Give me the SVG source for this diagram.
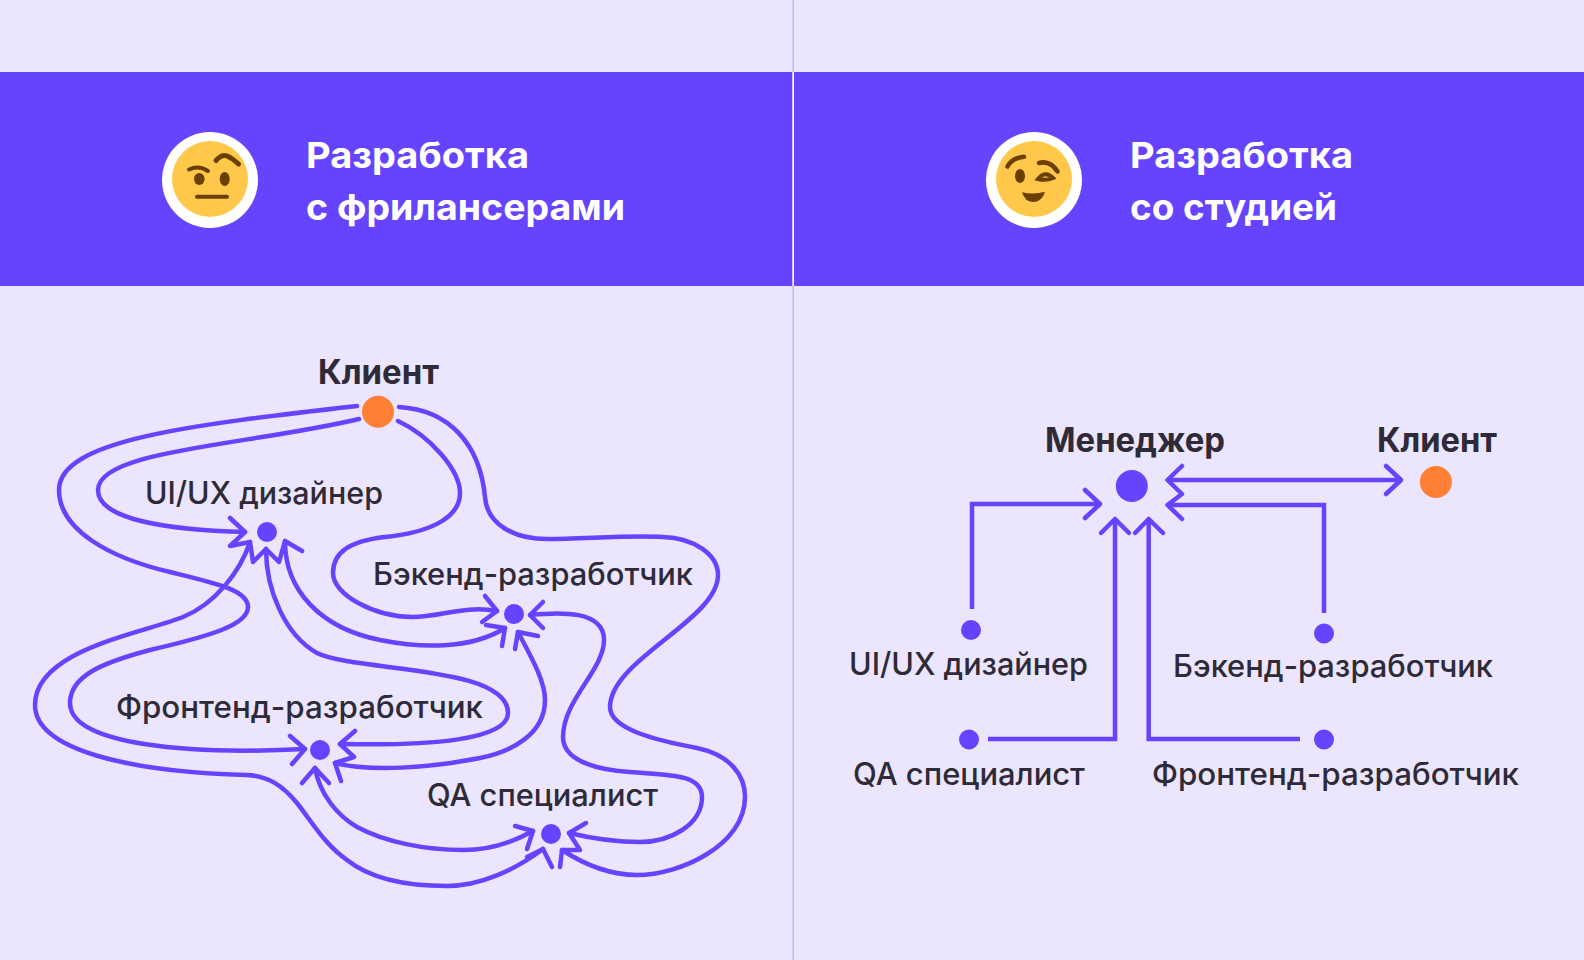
<svg xmlns="http://www.w3.org/2000/svg" width="1584" height="960" viewBox="0 0 1584 960">
<style>
text{font-family:"Inter","Liberation Sans",sans-serif;fill:#2E2A38;font-size:31px;font-weight:500}
.b{font-size:34px;font-weight:700}
.h{font-size:36px;font-weight:700;fill:#fff}
.c{fill:none;stroke:#6543FF;stroke-width:4.500;stroke-linecap:round;stroke-linejoin:round}
.s{fill:none;stroke:#6543FF;stroke-width:4.500;stroke-linejoin:miter}
.d{fill:#6543FF}
.o{fill:#FF8035}
.f{fill:none;stroke:#6B3F00;stroke-linecap:round}
.y{fill:#FFC84A}
</style>
<rect width="1584" height="960" fill="#EBE5FD"/>
<rect y="72" width="1584" height="214" fill="#6543FF"/>
<rect x="792.5" width="1.5" height="960" fill="#C4B8FA"/>
<rect x="792.5" y="72" width="1.5" height="214" fill="#fff"/>

<g id="header-left">
<circle cx="210" cy="180" r="48" fill="#fff"/>
<circle class="y" cx="210" cy="179" r="38"/>
<ellipse cx="199.3" cy="179" rx="5.3" ry="6" fill="#6B3F00"/>
<ellipse cx="224.7" cy="179" rx="5" ry="7" fill="#6B3F00"/>
<path class="f" stroke-width="4" d="M189 169.5Q199 165 208 171"/>
<path class="f" stroke-width="5" d="M216 160.500Q222 154 227 156T238.500 164"/>
<path class="f" stroke-width="4" d="M197 196.700H227"/>
<text class="h" x="306" y="168" textLength="223" lengthAdjust="spacingAndGlyphs">Разработка</text>
<text class="h" x="306" y="220" textLength="319" lengthAdjust="spacingAndGlyphs">с фрилансерами</text>
</g>
<g id="header-right">
<circle cx="1034" cy="180" r="48" fill="#fff"/>
<circle class="y" cx="1034" cy="179" r="38"/>
<ellipse cx="1020" cy="176" rx="5" ry="7" fill="#6B3F00"/>
<path class="f" stroke-width="4.500" d="M1007.500 166.500Q1012 158 1024 156.700"/>
<path class="f" stroke-width="4.500" d="M1039 163Q1050 160 1057.500 171.500"/>
<path class="f" stroke-width="4" d="M1038 179Q1045 170 1053 178Q1046 181 1038 179Z"/>
<path fill="#6B3F00" d="M1022 192.300Q1034 195 1045 191.700Q1042 202 1033 202Q1025 202 1022 192.300Z"/>
<text class="h" x="1130" y="168" textLength="223" lengthAdjust="spacingAndGlyphs">Разработка</text>
<text class="h" x="1130" y="220" textLength="207" lengthAdjust="spacingAndGlyphs">со студией</text>
</g>

<g id="connectors-left">
<path class="c" d="M357 406C190 425 59 440 59 490C59 530 110 558 170 572C215 583 248 590 248 607C248 625 210 636 150 650C105 662 70 675 70 703C70 745 190 755 305 749"/>
<path class="c" d="M359 419C250 445 98 450 98 490C98 520 170 530 245 532"/>
<path class="c" d="M250 542C240 572 215 604 183 617C140 634 35 650 35 705C35 750 130 772 247 775C268 776 282 785 297 803C312 822 325 845 347 860C372 880 410 886 447 886C480 886 515 870 543 849"/>
<path class="c" d="M266 549C266 590 285 635 317 653C355 672 508 665 508 713C508 740 430 746 340 744"/>
<path class="c" d="M285 541C285 590 320 628 380 640C420 648 470 650 505 628"/>
<path class="c" d="M398 421C430 436 460 470 460 493C460 520 425 533 385 537C350 541 333 552 333 573C333 595 375 617 413 617C440 617 465 605 497 611"/>
<path class="c" d="M399 407C450 410 480 445 485 497C487 525 515 539 547 539C585 539 625 535 663 537C695 538 718 555 718 575C718 620 610 660 610 707C610 730 660 741 697 748C730 755 745 775 745 797C745 845 680 875 637 875C610 875 585 865 562 850"/>
<path class="c" d="M530 615C560 612 604 610 604 640C604 670 563 700 563 737C563 762 600 770 630 772C665 775 702 773 702 797C702 825 670 842 640 842C615 842 590 838 569 833"/>
<path class="c" d="M518 632C530 655 545 680 545 700C545 735 510 752 480 758C430 768 370 772 335 763"/>
<path class="c" d="M315 768C320 795 338 816 357 827C385 842 425 850 463 850C490 850 515 841 533 831"/>
<!-- arrowheads -->
<path class="c" d="M230 518L245 532L230 546L250 542L253 562L266 549L279 562L285 541L302 551"/>
<path class="c" d="M485 596L497 611L482 622"/>
<path class="c" d="M486 625L505 628L502 646"/>
<path class="c" d="M515 649L518 632L538 636"/>
<path class="c" d="M543 602L530 615L543 628"/>
<path class="c" d="M290 736L305 749L292 764"/>
<path class="c" d="M355 731L340 744L354 757L335 763L341 781"/>
<path class="c" d="M302 783L315 768L329 783"/>
<path class="c" d="M515 826L533 831L527 849"/>
<path class="c" d="M527 857L543 849L552 867"/>
<path class="c" d="M586 823L569 833L580 850L562 850L560 867"/>
</g>

<g id="connectors-right">
<path class="s" d="M1167 480H1401"/>
<path class="c" d="M1182 466L1167.500 480L1182 494L1167.500 505L1182 519"/>
<path class="c" d="M1386 466L1401 480L1386 494"/>
<path class="s" d="M1324 613V505H1168"/>
<path class="s" d="M972 609V504H1100"/>
<path class="c" d="M1085 490L1100 504L1085 518"/>
<path class="s" d="M988 739H1115V519"/>
<path class="c" d="M1101 533L1115 519L1129 533"/>
<path class="s" d="M1300 739H1148.700V519"/>
<path class="c" d="M1135 533L1148.700 519L1163 533"/>
</g>

<g id="client-left"><circle class="o" cx="378" cy="411.700" r="16"/><text class="b" x="318" y="384" textLength="121" lengthAdjust="spacingAndGlyphs">Клиент</text></g>
<g id="ui-left"><circle class="d" cx="267" cy="532" r="10"/><text x="145" y="504" textLength="238" lengthAdjust="spacingAndGlyphs">UI/UX дизайнер</text></g>
<g id="backend-left"><circle class="d" cx="514" cy="614" r="10"/><text x="373" y="585" textLength="320" lengthAdjust="spacingAndGlyphs">Бэкенд-разработчик</text></g>
<g id="frontend-left"><circle class="d" cx="320" cy="750" r="10"/><text x="116" y="718" textLength="367" lengthAdjust="spacingAndGlyphs">Фронтенд-разработчик</text></g>
<g id="qa-left"><circle class="d" cx="551" cy="834" r="10"/><text x="427" y="806" textLength="231" lengthAdjust="spacingAndGlyphs">QA специалист</text></g>

<g id="manager-right"><circle class="d" cx="1131.800" cy="486" r="16"/><text class="b" x="1045" y="452" textLength="180" lengthAdjust="spacingAndGlyphs">Менеджер</text></g>
<g id="client-right"><circle class="o" cx="1435.900" cy="482" r="16"/><text class="b" x="1377" y="452" textLength="120" lengthAdjust="spacingAndGlyphs">Клиент</text></g>
<g id="ui-right"><circle class="d" cx="971" cy="630" r="10"/><text x="849" y="675" textLength="239" lengthAdjust="spacingAndGlyphs">UI/UX дизайнер</text></g>
<g id="backend-right"><circle class="d" cx="1324" cy="633.500" r="10"/><text x="1173" y="677" textLength="320" lengthAdjust="spacingAndGlyphs">Бэкенд-разработчик</text></g>
<g id="qa-right"><circle class="d" cx="969" cy="739.500" r="10"/><text x="853" y="785" textLength="232" lengthAdjust="spacingAndGlyphs">QA специалист</text></g>
<g id="frontend-right"><circle class="d" cx="1324" cy="739.500" r="10"/><text x="1152" y="785" textLength="367" lengthAdjust="spacingAndGlyphs">Фронтенд-разработчик</text></g>
</svg>
